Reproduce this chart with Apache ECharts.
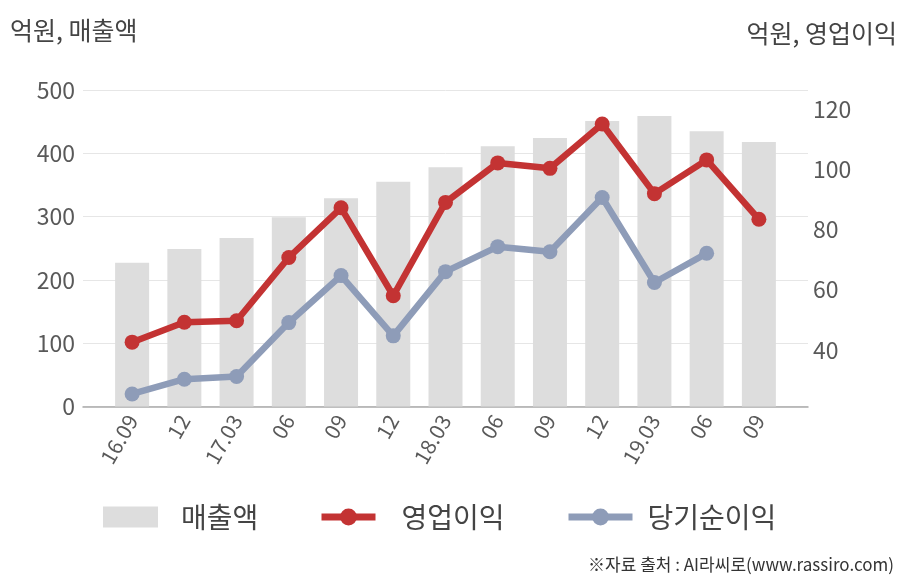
<!DOCTYPE html>
<html><head><meta charset="utf-8">
<script src="https://cdn.jsdelivr.net/npm/echarts@6/dist/echarts.min.js"></script>
<style>html,body{margin:0;padding:0;background:#fff}#c{width:908px;height:580px}</style>
</head><body><div id="c"></div>
<script>
const categories = ['16.09','12','17.03','06','09','12','18.03','06','09','12','19.03','06','09'];
const sales = [227, 249, 266, 299, 329, 355, 378, 411, 424, 451, 459, 435, 418];
const opProfit = [42.6, 49.2, 49.7, 70.7, 87.2, 58.0, 89.0, 102.1, 100.3, 115.0, 91.9, 103.1, 83.4];
const netProfit = [25.4, 30.3, 31.2, 49.1, 64.7, 44.7, 66.0, 74.3, 72.6, 90.6, 62.4, 72.1, null];
const leftTicks = [0, 100, 200, 300, 400, 500];
const rightRange = [21.25, 126.3];

const FONT = 'Noto Sans CJK KR';
const chart = echarts.init(document.getElementById('c'));
const lblColor = '#595959';
chart.setOption({
  animation: false,
  textStyle: {fontFamily: FONT},
  grid: [
    {left: 83, right: 100, top: 90, bottom: 173.5},
    {left: 106, right: 123, top: 90, bottom: 173.5}
  ],
  xAxis: [
    {gridIndex: 0, type: 'value', min: 0, max: 1, axisLine: {show: true, lineStyle: {color: '#aaaaaa', width: 1.5}},
     axisTick: {show: false}, axisLabel: {show: false}, splitLine: {show: false}},
    {gridIndex: 1, type: 'category', data: categories, boundaryGap: true,
     axisLine: {show: false}, axisTick: {show: false},
     axisLabel: {rotate: 60, interval: 0, color: lblColor, fontSize: 21, margin: 10, fontFamily: FONT}}
  ],
  yAxis: [
    {gridIndex: 0, type: 'value', min: leftTicks[0], max: leftTicks[leftTicks.length-1], interval: 100,
     axisLine: {show: false}, axisTick: {show: false},
     axisLabel: {color: lblColor, fontSize: 23, margin: 8, fontFamily: FONT},
     splitLine: {lineStyle: {color: '#e6e6e6', width: 1}},
     name: '억원, 매출액', nameLocation: 'end', nameGap: 0,
     nameTextStyle: {color: '#444', fontSize: 25, align: 'left', padding: [0, 0, 47, -73], fontFamily: FONT}},
    {gridIndex: 0, type: 'value', position: 'right', min: rightRange[0], max: rightRange[1],
     minInterval: 20, maxInterval: 20, splitNumber: 5,
     axisLine: {show: false}, axisTick: {show: false}, splitLine: {show: false},
     axisLabel: {color: lblColor, fontSize: 23, margin: 5, showMinLabel: false, showMaxLabel: false, fontFamily: FONT,
                 formatter: v => (Math.abs(v % 20) < 1e-6 ? String(v) : '')},
     name: '억원, 영업이익', nameLocation: 'end', nameGap: 0,
     nameTextStyle: {color: '#444', fontSize: 25, align: 'right', padding: [0, -89, 44, 0], fontFamily: FONT}},
    {gridIndex: 1, type: 'value', min: leftTicks[0], max: leftTicks[leftTicks.length-1], show: false, splitLine: {show: false}},
    {gridIndex: 1, type: 'value', min: rightRange[0], max: rightRange[1], show: false, splitLine: {show: false}}
  ],
  legend: [
    {left: 103, top: 503, padding: 0, itemWidth: 55, itemHeight: 21, itemGap: 0,
     data: [{name: '매출액', icon: 'rect'}],
     textStyle: {fontSize: 28, color: '#444', padding: [0, 0, 0, 18], fontFamily: FONT}},
    {left: 318, top: 503, padding: 0, itemWidth: 54, itemHeight: 21, itemGap: 0, data: ['영업이익'],
     lineStyle: {width: 7}, itemStyle: {borderWidth: 0},
     textStyle: {fontSize: 28, color: '#444', padding: [0, 0, 0, 21], fontFamily: FONT}},
    {left: 565, top: 503, padding: 0, itemWidth: 64, itemHeight: 21, itemGap: 0, data: ['당기순이익'],
     lineStyle: {width: 7}, itemStyle: {borderWidth: 0},
     textStyle: {fontSize: 28, color: '#444', padding: [0, 0, 0, 10], fontFamily: FONT}}
  ],
  series: [
    {name: '매출액', type: 'bar', xAxisIndex: 1, yAxisIndex: 2, data: sales, barWidth: 34,
     itemStyle: {color: '#dddddd'}},
    {name: '영업이익', type: 'line', xAxisIndex: 1, yAxisIndex: 3, data: opProfit,
     symbol: 'circle', symbolSize: 15, lineStyle: {color: '#c33333', width: 6.5},
     itemStyle: {color: '#c33333'}, z: 4},
    {name: '당기순이익', type: 'line', xAxisIndex: 1, yAxisIndex: 3, data: netProfit,
     symbol: 'circle', symbolSize: 15, lineStyle: {color: '#8e9cb8', width: 6.5},
     itemStyle: {color: '#8e9cb8'}, z: 3}
  ],
  graphic: [
    {type: 'text', right: 14, top: 556, style: {text: '※자료 출처 : AI라씨로(www.rassiro.com)', font: '17px "Noto Sans CJK KR"', fill: '#333'}}
  ]
});
</script></body></html>
